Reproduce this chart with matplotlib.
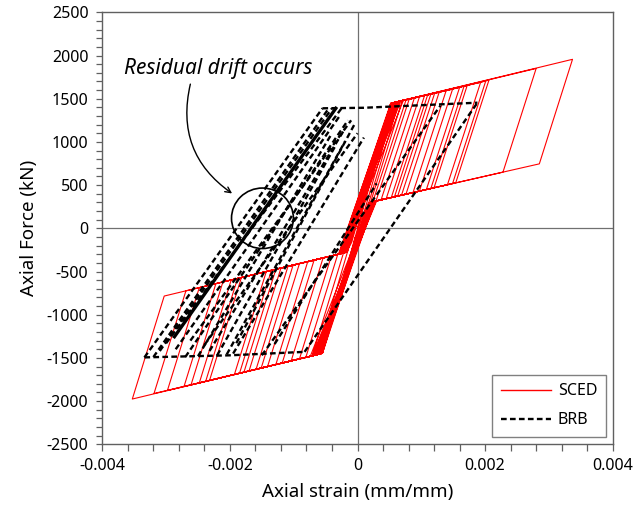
import numpy as np
import matplotlib
matplotlib.use("Agg")
import matplotlib.pyplot as plt
from matplotlib.patches import Ellipse
from matplotlib.lines import Line2D

# ----------------------------------------------------------------------------
# Data (strain in mm/mm, force in kN)
# ----------------------------------------------------------------------------

# SCED, tension half-cycles: peak point and end of elastic unloading
SCED_POS_PEAK_STRAIN = [0.00337, 0.00280, 0.00206, 0.00201, 0.00193, 0.00172,
                        0.00167, 0.00160, 0.00149, 0.00139, 0.00128, 0.00121,
                        0.00115, 0.00110, 0.00105, 0.00097, 0.00089, 0.00081,
                        0.00076, 0.00070, 0.00065, 0.00060, 0.00055]
SCED_POS_PEAK_FORCE = [1956, 1850, 1715, 1705, 1690, 1655, 1645, 1630, 1610,
                       1595, 1575, 1565, 1555, 1545, 1535, 1520, 1505, 1495,
                       1485, 1475, 1465, 1455, 1450]
SCED_POS_UNLOAD_STRAIN = [0.00285, 0.00228, 0.00154, 0.00149, 0.00141, 0.00120,
                          0.00115, 0.00108, 0.00097, 0.00087, 0.00076, 0.00069,
                          0.00063, 0.00058, 0.00053, 0.00045, 0.00037, 0.00029,
                          0.00024, 0.00020, 0.00015, 0.00010, 0.00005]
SCED_POS_UNLOAD_FORCE = [746, 650, 527, 518, 505, 470, 461, 450, 431, 414, 396,
                         384, 374, 366, 357, 344, 331, 317, 308, 290, 230, 180,
                         130]
# where reloading meets the upper envelope, and where unloading leaves the
# lower plateau
SCED_POS_JOIN_STRAIN = [0.00052, 0.00055, 0.00058, 0.00053, 0.00061, 0.00056,
                        0.00064, 0.00052, 0.00059, 0.00068, 0.00054, 0.00062,
                        0.00057, 0.00072, 0.00053, 0.00060, 0.00066, 0.00055,
                        0.00058, 0.00063, 0.00054, 0.00057, 0.00052]
SCED_POS_JOIN_FORCE = [1447, 1452, 1458, 1449, 1463, 1454, 1468, 1447, 1460,
                       1476, 1450, 1465, 1456, 1483, 1449, 1461, 1472, 1452,
                       1458, 1466, 1450, 1456, 1447]
SCED_POS_RETURN_STRAIN = [0.00024, 0.00020, 0.00028, 0.00017, 0.00025, 0.00022,
                          0.00030, 0.00019, 0.00026, 0.00021, 0.00027, 0.00018,
                          0.00024, 0.00029, 0.00020, 0.00023, 0.00026, 0.00022,
                          0.00020, 0.00018, 0.00012, 0.00008, 0.00004]
SCED_POS_RETURN_FORCE = [308, 300, 315, 295, 310, 305, 318, 298, 312, 302, 314,
                         296, 308, 316, 300, 306, 312, 304, 290, 270, 200, 150,
                         100]

# SCED, compression half-cycles
SCED_NEG_PEAK_STRAIN = [-0.00353, -0.00319, -0.00298, -0.00272, -0.00261,
                        -0.00248, -0.00238, -0.00232, -0.00193, -0.00185,
                        -0.00178, -0.00170, -0.00159, -0.00151, -0.00141,
                        -0.00128, -0.00118, -0.00104, -0.00091, -0.00081,
                        -0.00071, -0.00063, -0.00055]
SCED_NEG_PEAK_FORCE = [-1976, -1912, -1878, -1832, -1813, -1790, -1771, -1762,
                       -1693, -1679, -1665, -1651, -1632, -1618, -1600, -1577,
                       -1558, -1535, -1512, -1493, -1475, -1461, -1447]
SCED_NEG_UNLOAD_STRAIN = [-0.00303, -0.00269, -0.00248, -0.00222, -0.00211,
                          -0.00198, -0.00188, -0.00182, -0.00143, -0.00135,
                          -0.00128, -0.00120, -0.00109, -0.00101, -0.00091,
                          -0.00078, -0.00068, -0.00054, -0.00041, -0.00031,
                          -0.00022, -0.00014, -0.00006]
SCED_NEG_UNLOAD_FORCE = [-784, -724, -686, -640, -621, -598, -580, -570, -501,
                         -487, -474, -460, -440, -426, -408, -385, -367, -343,
                         -320, -302, -285, -230, -180]
SCED_NEG_JOIN_STRAIN = [-0.00055, -0.00059, -0.00062, -0.00056, -0.00066,
                        -0.00058, -0.00070, -0.00055, -0.00063, -0.00074,
                        -0.00057, -0.00065, -0.00060, -0.00068, -0.00056,
                        -0.00062, -0.00071, -0.00058, -0.00061, -0.00064,
                        -0.00056, -0.00059, -0.00055]
SCED_NEG_JOIN_FORCE = [-1447, -1454, -1460, -1449, -1467, -1452, -1474, -1447,
                       -1461, -1481, -1451, -1465, -1456, -1470, -1449, -1460,
                       -1476, -1452, -1458, -1463, -1449, -1454, -1447]
SCED_NEG_RETURN_STRAIN = [-0.00024, -0.00019, -0.00027, -0.00016, -0.00025,
                          -0.00021, -0.00029, -0.00018, -0.00026, -0.00022,
                          -0.00028, -0.00017, -0.00023, -0.00030, -0.00020,
                          -0.00024, -0.00027, -0.00021, -0.00019, -0.00018,
                          -0.00014, -0.00009, -0.00004]
SCED_NEG_RETURN_FORCE = [-289, -280, -296, -276, -291, -284, -300, -278, -293,
                         -286, -298, -277, -288, -302, -282, -289, -295, -284,
                         -280, -270, -210, -160, -110]

# BRB, plateaus
BRB_TOP_STRAIN = [-0.00055, 0.00010, 0.00188]
BRB_TOP_FORCE = [1389, 1395, 1454]
BRB_BOT_STRAIN = [-0.00334, -0.00200, -0.00083]
BRB_BOT_FORCE = [-1494, -1470, -1430]

# BRB, elastic branches (start point -> end point)
BRB_BR_X0 = [-0.00334, -0.00320, -0.00310, -0.00300, -0.00285, -0.00270,
             -0.00262, -0.00250, -0.00240, -0.00232, -0.00220, -0.00205,
             -0.00195, -0.00190, -0.00083, -0.00150, -0.00130]
BRB_BR_Y0 = [-1494, -1490, -1420, -1330, -1400, -1490, -1300, -1480, -1350,
             -1420, -1470, -1460, -1450, -1330, -1430, -1470, -1340]
BRB_BR_X1 = [-0.00055, -0.00045, -0.00040, -0.00025, -0.00028, -0.00015,
             -0.00010, -0.00040, 0.00000, -0.00020, -0.00035, -0.00020,
             0.00010, -0.00005, 0.00188, 0.00130, 0.00030]
BRB_BR_Y1 = [1389, 1389, 1389, 1389, 1300, 1250, 1250, 1100, 1100, 1150, 950,
             1000, 1050, 1200, 1454, 1420, 520]

# the heavily overlapped branch that shows up as a solid line
BRB_THICK_STRAIN = [-0.00287, -0.00034]
BRB_THICK_FORCE = [-1255, 1389]

CIRCLE_CENTER = (-0.00149, 116)

X_TICKS = [-0.004, -0.002, 0, 0.002, 0.004]
X_TICK_LABELS = ["-0.004", "-0.002", "0", "0.002", "0.004"]
Y_TICKS = [-2500, -2000, -1500, -1000, -500, 0, 500, 1000, 1500, 2000, 2500]
Y_TICK_LABELS = [str(v) for v in Y_TICKS]


# ----------------------------------------------------------------------------
# Build the SCED path cycle by cycle
# ----------------------------------------------------------------------------

def sced_path():
    xs, ys = [0.0], [0.0]
    for i in range(len(SCED_POS_PEAK_STRAIN)):
        xs += [SCED_POS_JOIN_STRAIN[i], SCED_POS_PEAK_STRAIN[i], SCED_POS_UNLOAD_STRAIN[i]]
        ys += [SCED_POS_JOIN_FORCE[i], SCED_POS_PEAK_FORCE[i], SCED_POS_UNLOAD_FORCE[i]]
        if SCED_POS_UNLOAD_STRAIN[i] > SCED_POS_RETURN_STRAIN[i]:
            xs.append(SCED_POS_RETURN_STRAIN[i]); ys.append(SCED_POS_RETURN_FORCE[i])
        xs += [SCED_NEG_JOIN_STRAIN[i], SCED_NEG_PEAK_STRAIN[i], SCED_NEG_UNLOAD_STRAIN[i]]
        ys += [SCED_NEG_JOIN_FORCE[i], SCED_NEG_PEAK_FORCE[i], SCED_NEG_UNLOAD_FORCE[i]]
        if SCED_NEG_UNLOAD_STRAIN[i] < SCED_NEG_RETURN_STRAIN[i]:
            xs.append(SCED_NEG_RETURN_STRAIN[i]); ys.append(SCED_NEG_RETURN_FORCE[i])
    return xs, ys


plt.rcParams["font.family"] = ["Noto Sans", "DejaVu Sans"]

fig = plt.figure(figsize=(6.34, 5.13), dpi=100)
ax = fig.add_axes([0.1614, 0.1339, 0.8050, 0.8421])

ax.axhline(0, color="#707070", lw=0.9, zorder=1)
ax.axvline(0, color="#707070", lw=0.9, zorder=1)

RED = "#ff0000"
DASH = (0, (2.4, 1.4))

sx, sy = sced_path()
ax.plot(sx, sy, color=RED, lw=0.8, zorder=2)

ax.plot(BRB_TOP_STRAIN, BRB_TOP_FORCE, color="black", lw=1.7, ls=DASH, zorder=3)
ax.plot(BRB_BOT_STRAIN, BRB_BOT_FORCE, color="black", lw=1.7, ls=DASH, zorder=3)
for x0, y0, x1, y1 in zip(BRB_BR_X0, BRB_BR_Y0, BRB_BR_X1, BRB_BR_Y1):
    ax.plot([x0, x1], [y0, y1], color="black", lw=1.7, ls=DASH, zorder=3)
ax.plot(BRB_THICK_STRAIN, BRB_THICK_FORCE, color="black", lw=2.4, zorder=3)

# annotation
ax.add_patch(Ellipse(CIRCLE_CENTER, width=0.00097, height=700, fill=False,
                     ec="black", lw=1.2, zorder=4))
ax.text(-0.00366, 1855, "Residual drift occurs", fontsize=15, style="italic",
        ha="left", va="center")
ax.annotate("", xy=(-0.00193, 385), xytext=(-0.00261, 1700),
            arrowprops=dict(arrowstyle="->", color="black", lw=1.0,
                            connectionstyle="arc3,rad=0.35"))

ax.set_xlim(-0.004, 0.004)
ax.set_ylim(-2500, 2500)
ax.set_xticks(X_TICKS)
ax.set_xticklabels(X_TICK_LABELS)
ax.set_yticks(Y_TICKS)
ax.set_yticklabels(Y_TICK_LABELS)
ax.set_xticks(np.arange(-0.004, 0.00401, 0.0004), minor=True)
ax.set_yticks(np.arange(-2500, 2501, 100), minor=True)
ax.tick_params(which="both", direction="out", length=5, width=0.9,
               color="#606060", labelsize=11.5)
ax.tick_params(axis="y", which="both", length=4, pad=6)
ax.tick_params(axis="x", pad=5)
for s in ax.spines.values():
    s.set_color("#606060")
    s.set_linewidth(1.0)

ax.set_xlabel("Axial strain (mm/mm)", fontsize=13.5, labelpad=6)
ax.set_ylabel("Axial Force (kN)", fontsize=13.5, labelpad=6)

handles = [Line2D([], [], color=RED, lw=1.0),
           Line2D([], [], color="black", lw=1.7, ls=DASH)]
leg = ax.legend(handles, ["SCED", "BRB"], loc="lower right",
                bbox_to_anchor=(0.987, 0.017), borderaxespad=0, fontsize=11.5,
                handlelength=3.1, handletextpad=0.45, labelspacing=0.8,
                fancybox=False, edgecolor="#606060", borderpad=0.55)
leg.get_frame().set_linewidth(1.0)

fig.savefig("out.png", dpi=100)
